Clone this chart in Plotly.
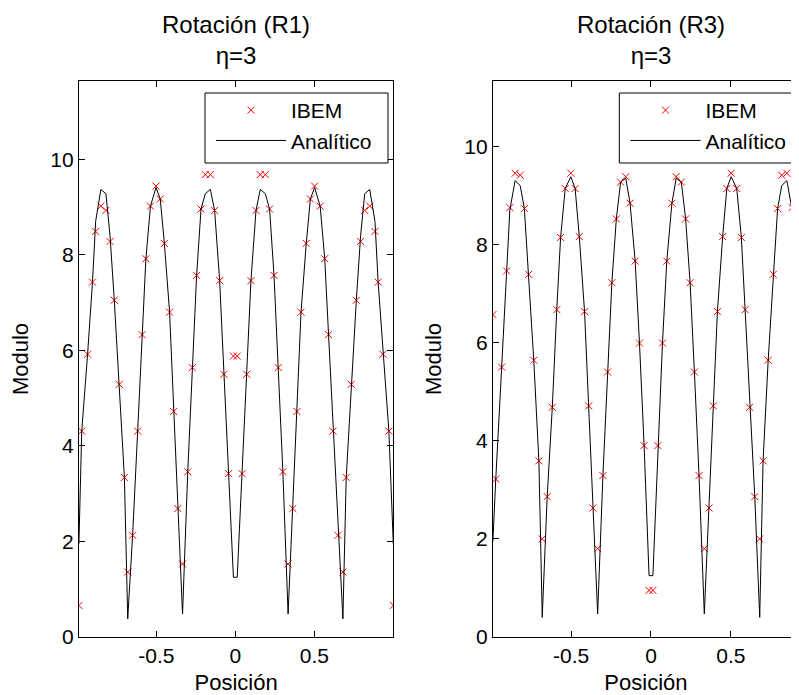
import plotly.graph_objects as go

# shared x positions (half mesh, mirrored)
x_neg = [-0.990, -0.972, -0.935, -0.904, -0.884, -0.851, -0.819, -0.793, -0.766, -0.734,
         -0.702, -0.681, -0.650, -0.618, -0.590, -0.566, -0.537, -0.502, -0.475, -0.449,
         -0.416, -0.390, -0.364, -0.334, -0.301, -0.272, -0.245, -0.217, -0.190, -0.158,
         -0.131, -0.099, -0.072, -0.043, -0.012]
x_pos = [0.012, 0.043, 0.072, 0.099, 0.131, 0.158, 0.190, 0.217, 0.245, 0.272,
         0.301, 0.334, 0.364, 0.390, 0.416, 0.449, 0.475, 0.502, 0.537, 0.566,
         0.590, 0.618, 0.650, 0.681, 0.702, 0.734, 0.766, 0.793, 0.819, 0.851,
         0.884, 0.904, 0.935, 0.972, 1.000]
posicion = x_neg + x_pos

# Rotación (R1)
ibem_r1 = [0.66, 4.31, 5.92, 7.43, 8.49, 9.02, 8.93, 8.28, 7.05, 5.29,
           3.34, 1.36, 2.13, 4.31, 6.33, 7.92, 9.02, 9.44, 9.17, 8.24,
           6.80, 4.72, 2.69, 1.53, 3.46, 5.64, 7.57, 8.96, 9.68, 9.68,
           8.93, 7.46, 5.50, 3.42, 5.88,
           5.88, 3.42, 5.50, 7.46, 8.93, 9.68, 9.68, 8.96, 7.57, 5.64,
           3.46, 1.53, 2.69, 4.72, 6.80, 8.24, 9.17, 9.44, 9.02, 7.92,
           6.33, 4.31, 2.13, 1.36, 3.34, 5.29, 7.05, 8.28, 8.93, 9.02,
           8.49, 7.43, 5.92, 4.31, 0.66]
anal_r1 = [1.95, 4.31, 5.92, 7.43, 8.70, 9.37, 9.28, 8.40, 7.05, 5.29,
           3.34, 0.38, 2.13, 4.31, 6.33, 7.92, 9.02, 9.41, 9.17, 8.24,
           6.80, 4.72, 2.69, 0.48, 3.46, 5.64, 7.57, 8.96, 9.28, 9.37,
           8.93, 7.46, 5.50, 3.42, 1.25,
           1.25, 3.42, 5.50, 7.46, 8.93, 9.37, 9.28, 8.96, 7.57, 5.64,
           3.46, 0.48, 2.69, 4.72, 6.80, 8.24, 9.17, 9.41, 9.02, 7.92,
           6.33, 4.31, 2.13, 0.38, 3.34, 5.29, 7.05, 8.40, 9.28, 9.37,
           8.70, 7.43, 5.92, 4.31, 1.95]

# Rotación (R3)
ibem_r3 = [6.57, 3.22, 5.50, 7.46, 8.75, 9.45, 9.41, 8.73, 7.39, 5.64,
           3.59, 2.00, 2.86, 4.68, 6.67, 8.14, 9.14, 9.45, 9.14, 8.16,
           6.63, 4.71, 2.63, 1.80, 3.29, 5.40, 7.22, 8.52, 9.27, 9.38,
           8.84, 7.66, 5.99, 3.90, 0.95,
           0.95, 3.90, 5.99, 7.66, 8.84, 9.38, 9.27, 8.52, 7.22, 5.40,
           3.29, 1.80, 2.63, 4.71, 6.63, 8.16, 9.14, 9.45, 9.14, 8.14,
           6.67, 4.68, 2.86, 2.00, 3.59, 5.64, 7.39, 8.73, 9.41, 9.45,
           8.75, 7.46, 5.50, 3.22, 6.57]
anal_r3 = [1.95, 3.22, 5.50, 7.46, 8.70, 9.30, 9.20, 8.73, 7.39, 5.64,
           3.59, 0.40, 2.86, 4.68, 6.67, 8.14, 9.14, 9.38, 9.14, 8.16,
           6.63, 4.71, 2.63, 0.47, 3.29, 5.40, 7.22, 8.52, 9.27, 9.35,
           8.84, 7.66, 5.99, 3.90, 1.25,
           1.25, 3.90, 5.99, 7.66, 8.84, 9.35, 9.27, 8.52, 7.22, 5.40,
           3.29, 0.47, 2.63, 4.71, 6.63, 8.16, 9.14, 9.38, 9.14, 8.14,
           6.67, 4.68, 2.86, 0.40, 3.59, 5.64, 7.39, 8.73, 9.20, 9.30,
           8.70, 7.46, 5.50, 3.22, 1.95]

titles = ["Rotación (R1)<br>η=3", "Rotación (R3)<br>η=3"]
xtick_vals = [-0.5, 0, 0.5]
xtick_text = ["-0.5", "0", "0.5"]
ytick_vals = [0, 2, 4, 6, 8, 10]

FONT = "Liberation Sans, Arial, sans-serif"
OFF = 8                      # page body margin of the html page
W, H = 799 - OFF, 695 - OFF
TOP = 81 - OFF
BOT = H - (637 - OFF)
PH = H - TOP - BOT


def px(v):
    return (v - OFF) / W


def py(v):
    return 1 - (v - 81) / PH


fig = go.Figure()

marker_style = dict(symbol="x-thin", size=7, color="red", line=dict(color="red", width=1))
line_style = dict(color="black", width=1)

fig.add_trace(go.Scatter(x=posicion, y=ibem_r1, mode="markers", name="IBEM",
                         marker=marker_style, xaxis="x", yaxis="y", legend="legend"))
fig.add_trace(go.Scatter(x=posicion, y=anal_r1, mode="lines", name="Analítico",
                         line=line_style, xaxis="x", yaxis="y", legend="legend"))
fig.add_trace(go.Scatter(x=posicion, y=ibem_r3, mode="markers", name="IBEM",
                         marker=marker_style, xaxis="x2", yaxis="y2", legend="legend2"))
fig.add_trace(go.Scatter(x=posicion, y=anal_r3, mode="lines", name="Analítico",
                         line=line_style, xaxis="x2", yaxis="y2", legend="legend2"))

axfont = dict(family=FONT, size=21, color="black")
common_x = dict(tickvals=xtick_vals, ticktext=xtick_text, ticks="inside", ticklen=6,
                tickcolor="black", showline=True, linecolor="black", linewidth=1,
                showgrid=False, zeroline=False, tickfont=axfont, automargin=False,
                title=dict(text="Posición", font=dict(family=FONT, size=22, color="black"), standoff=10))
common_y = dict(tickvals=ytick_vals, ticks="inside", ticklen=6, tickcolor="black",
                showline=True, linecolor="black", linewidth=1, showgrid=False,
                zeroline=False, tickfont=axfont, automargin=False,
                title=dict(text="Modulo", font=dict(family=FONT, size=22, color="black"), standoff=16))

L0, L1 = px(78.9), px(393.3)
R0, R1 = px(492.9), 1.0

legend_common = dict(xanchor="left", yanchor="top", bgcolor="rgba(0,0,0,0)",
                     borderwidth=0, font=dict(family=FONT, size=21, color="black"),
                     itemwidth=70)

fig.update_layout(
    width=W, height=H,
    margin=dict(l=0, r=0, t=TOP, b=BOT, pad=0),
    paper_bgcolor="white", plot_bgcolor="white",
    font=dict(family=FONT, color="black"),
    xaxis=dict(domain=[L0, L1], range=[-0.99, 1.0], anchor="y", mirror="ticks", **common_x),
    yaxis=dict(domain=[0, 1], range=[0, 11.64], anchor="x", mirror="ticks", **common_y),
    xaxis2=dict(domain=[R0, R1], range=[-0.99, 0.927], anchor="y2", mirror="ticks", **common_x),
    yaxis2=dict(domain=[0, 1], range=[0, 11.33], anchor="x2", mirror=False, **common_y),
    legend=dict(x=px(211), y=py(90), **legend_common),
    legend2=dict(x=px(625.5), y=py(90), **legend_common),
    showlegend=True,
)

# legend boxes
for (bx0, bx1) in [(205, 388), (619.3, 830)]:
    fig.add_shape(type="rect", xref="paper", yref="paper",
                  x0=px(bx0), x1=px(bx1), y0=py(163), y1=py(93),
                  fillcolor="white", line=dict(color="black", width=1), layer="above")

for i, (x0, x1) in enumerate([(px(78.9), px(393.3)), (px(492.9), px(810))]):
    fig.add_annotation(text=titles[i], x=(x0 + x1) / 2, y=1, xref="paper", yref="paper",
                       xanchor="center", yanchor="bottom", yshift=10, showarrow=False,
                       font=dict(family=FONT, size=24, color="black"))

fig.write_html("out.html")
